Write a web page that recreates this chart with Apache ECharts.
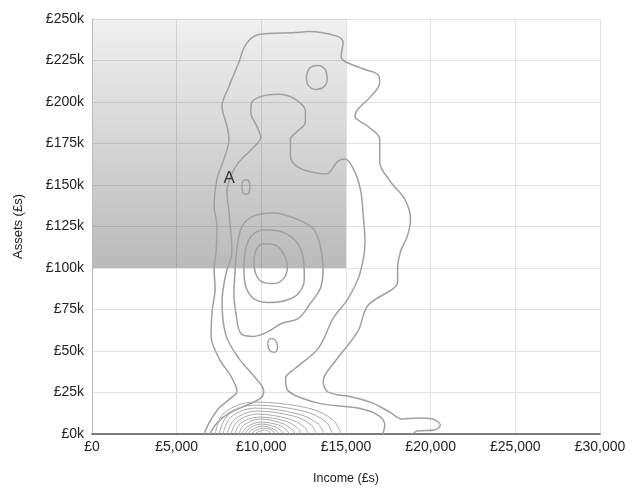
<!DOCTYPE html>
<html>
<head>
<meta charset="utf-8">
<script src="https://cdn.jsdelivr.net/npm/echarts@6/dist/echarts.min.js"></script>
<style>html,body{margin:0;padding:0;background:#fff}#c{width:633px;height:490px}</style>
</head>
<body>
<div id="c"></div>
<script>
// Shaded region: income 0..15,000, assets £100k..£250k
const shadeBox = [[0, 100], [15000, 250]];

// Contour lines: [income (£), assets (£k)]
const contourOuter = [[6620,0],[6910,6.6],[7500,15.6],[8200,21.6],[8560,25.8],[8200,34.8],[7500,45.6],[7030,59.4],[7090,73.8],[7270,87.6],[7210,99.6],[7330,109.8],[7380,125.4],[7210,137.4],[7380,153.6],[7790,165.6],[8090,177.6],[7970,185.4],[7680,197.4],[8090,209.4],[8670,223.8],[9080,234.6],[9840,240.6],[12010,241.8],[12770,242.4],[14530,239.4],[14830,235.8],[14710,227.4],[14940,224.4],[16120,219.6],[16880,216.6],[16990,211.8],[16470,203.4],[15700,195.6],[15530,191.4],[16290,185.4],[16990,177.6],[16990,163.8],[17640,151.8],[18460,141.6],[18810,129.6],[18630,119.4],[18220,109.8],[18050,99.6],[18050,91.8],[16290,77.4],[15700,61.8],[14360,43.8],[13650,31.8],[13950,25.2],[15410,22.2],[16580,18.6],[17580,13.2],[18340,9],[19220,9.6],[20100,9],[20570,5.4],[20220,2.4],[19220,1.8],[18930,0]];
const contourSecond = [[6970,0],[7380,6.6],[8090,12.6],[9140,17.4],[9960,21.6],[10140,25.8],[9670,33.6],[8670,45.6],[7910,59.4],[7680,79.8],[7910,96.6],[8260,109.8],[8090,133.8],[7970,145.8],[8200,155.4],[8670,163.8],[9430,171.6],[9960,178.8],[9730,185.4],[9380,193.8],[9430,199.8],[10020,203.4],[11020,204.6],[12010,201.6],[12600,194.4],[12600,187.8],[12070,181.8],[11720,177.6],[11720,167.4],[12070,161.4],[12950,157.8],[13830,156.6],[14530,164.4],[14940,165.6],[15530,157.8],[15880,145.8],[16000,133.8],[16120,115.8],[15820,96.6],[15120,81.6],[14240,69.6],[13360,51.6],[12010,39.6],[11430,33.6],[11600,25.8],[13360,18.6],[15700,15.6],[16880,11.4],[17290,5.4],[17170,0]];
const ringThird = [[8440,96.6],[8560,111.6],[8850,124.8],[9550,131.4],[10720,133.2],[12070,129.6],[13070,123.6],[13480,113.4],[13650,99.6],[13480,87.6],[12890,78.6],[12190,69.6],[11190,66.6],[10310,61.2],[9550,58.8],[8790,60.6],[8500,72.6],[8380,84.6],[8440,96.6]];
const ringFourth = [[8970,99.6],[9080,111.6],[9430,119.4],[10140,123],[11190,121.8],[12070,115.8],[12480,105.6],[12540,93.6],[12190,84.6],[11430,80.4],[10430,79.2],[9550,81.6],[9080,88.8],[8970,99.6]];
const ringPeak = [[9550,104.4],[9730,111.6],[10140,114.6],[10780,114],[11310,108.6],[11540,100.8],[11310,93.6],[10720,90.6],[10020,91.8],[9670,96.6],[9550,104.4]];
const loopTop = [[12660,214.8],[12830,220.2],[13300,222],[13770,219.6],[13890,213.6],[13650,208.8],[13190,207.6],[12770,210],[12660,214.8]];
const loopA = [[8850,149.4],[8970,153],[9200,153],[9320,148.8],[9200,144.6],[8970,144.6],[8850,149.4]];
const loopLow = [[10370,55.2],[10550,57.6],[10840,56.4],[10960,51.6],[10780,49.2],[10490,50.4],[10370,55.2]];

// Dense low-asset peak rings
const peakRings = [
  [[7270,0],[7790,12.6],[9550,19.2],[12770,15.6],[14240,8.4],[14710,0]],
  [[7500,0],[8030,11.4],[9610,17.4],[12480,13.8],[13830,7.2],[14180,0]],
  [[7740,0],[8200,10.2],[9670,15.6],[12190,12],[13360,6],[13710,0]],
  [[7970,0],[8440,9],[9730,13.8],[11900,10.8],[12950,5.4],[13240,0]],
  [[8200,0],[8610,7.8],[9790,12],[11660,9],[12540,4.2],[12770,0]],
  [[8440,0],[8790,6.6],[9840,10.2],[11430,7.8],[12130,3.6],[12360,0]],
  [[8670,0],[8970,5.4],[9900,9],[11190,6.6],[11780,3],[12010,0]],
  [[8850,0],[9140,4.2],[9960,7.2],[11020,5.4],[11490,2.4],[11660,0]],
  [[9020,0],[9320,3.6],[10020,6],[10840,4.2],[11190,1.8],[11370,0]],
  [[9200,0],[9430,2.4],[10080,4.8],[10720,3],[10960,1.2],[11080,0]],
  [[9380,0],[9610,1.8],[10140,3.6],[10610,2.4],[10840,0]],
  [[9610,0],[9790,1.2],[10200,2.4],[10490,1.2],[10610,0]]
];

// Annotation
const annotations = [{ name: 'A', value: [8100, 154] }];

const FONT = 'Liberation Sans, Arial, Helvetica, sans-serif';
const chart = echarts.init(document.getElementById('c'), null, { renderer: 'canvas' });

function contour(data, color, width) {
  return {
    type: 'line', data: data, smooth: 0.35, showSymbol: false, symbol: 'none',
    silent: true, z: 3,
    lineStyle: { color: color, width: width }
  };
}

const series = [
  {
    type: 'line', data: [], z: 0, silent: true,
    markArea: {
      silent: true,
      itemStyle: {
        color: new echarts.graphic.LinearGradient(0, 0, 0, 1, [
          { offset: 0, color: 'rgba(0,0,0,0.06)' },
          { offset: 1, color: 'rgba(0,0,0,0.27)' }
        ])
      },
      data: [[{ coord: shadeBox[0] }, { coord: shadeBox[1] }]]
    }
  },
  contour(contourOuter, '#a0a0a0', 1.5),
  contour(contourSecond, '#a0a0a0', 1.5),
  contour(ringThird, '#a0a0a0', 1.5),
  contour(ringFourth, '#a0a0a0', 1.5),
  contour(ringPeak, '#a0a0a0', 1.5),
  contour(loopTop, '#a0a0a0', 1.5),
  contour(loopA, '#a0a0a0', 1.4),
  contour(loopLow, '#a0a0a0', 1.4)
];
peakRings.forEach(r => series.push(contour(r, '#aaaaaa', 1)));
series.push({
  type: 'scatter', data: annotations, symbolSize: 0, z: 5, silent: true,
  label: { show: true, formatter: '{b}', position: 'inside', fontSize: 17, color: '#111', fontFamily: FONT }
});

chart.setOption({
  animation: false,
  backgroundColor: '#fff',
  grid: { left: 92, right: 33, top: 19, bottom: 54, containLabel: false },
  xAxis: {
    type: 'value', min: 0, max: 30000, interval: 5000, z: 1,
    name: 'Income (£s)', nameLocation: 'middle', nameGap: 38,
    nameTextStyle: { fontSize: 12.5, color: '#222', fontFamily: FONT },
    axisLine: { show: true, lineStyle: { color: '#555', width: 1.6 } },
    axisTick: { show: false },
    axisLabel: { margin: 6, fontSize: 14, color: '#222', fontFamily: FONT,
      formatter: v => '£' + v.toLocaleString('en-GB') },
    splitLine: { show: true, lineStyle: { color: '#e2e2e2', width: 1 } }
  },
  yAxis: {
    type: 'value', min: 0, max: 250, interval: 25, z: 1,
    name: 'Assets (£s)', nameLocation: 'middle', nameGap: 67, nameRotate: 90,
    nameTextStyle: { fontSize: 13, color: '#222', fontFamily: FONT },
    axisLine: { show: true, lineStyle: { color: '#bbb', width: 1 } },
    axisTick: { show: false },
    axisLabel: { margin: 8, fontSize: 14, color: '#222', fontFamily: FONT,
      formatter: v => '£' + v + 'k' },
    splitLine: { show: true, lineStyle: { color: '#e2e2e2', width: 1 } }
  },
  series: series
});
</script>
</body>
</html>
